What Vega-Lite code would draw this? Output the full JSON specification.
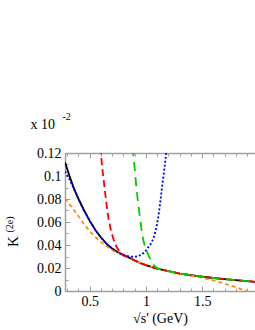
{
  "$schema": "https://vega.github.io/schema/vega-lite/v6.json",
  "autosize": "none",
  "width": 190,
  "height": 138,
  "padding": {"left": 65, "top": 153, "right": 0, "bottom": 39},
  "background": "white",
  "config": {"view": {"stroke": null}, "font": "Liberation Serif"},
  "datasets": {
    "black": [
      {"x": 0.28, "k": 0.112}, {"x": 0.30, "k": 0.106}, {"x": 0.32, "k": 0.100}, {"x": 0.34, "k": 0.0945},
      {"x": 0.36, "k": 0.089}, {"x": 0.38, "k": 0.0845}, {"x": 0.40, "k": 0.080}, {"x": 0.45, "k": 0.070},
      {"x": 0.50, "k": 0.061}, {"x": 0.55, "k": 0.053}, {"x": 0.60, "k": 0.0465}, {"x": 0.65, "k": 0.041},
      {"x": 0.70, "k": 0.037}, {"x": 0.75, "k": 0.0337}, {"x": 0.80, "k": 0.0312}, {"x": 0.85, "k": 0.029},
      {"x": 0.90, "k": 0.0265}, {"x": 0.95, "k": 0.0243}, {"x": 1.00, "k": 0.0225}, {"x": 1.05, "k": 0.0209},
      {"x": 1.10, "k": 0.0195}, {"x": 1.20, "k": 0.0172}, {"x": 1.30, "k": 0.0152}, {"x": 1.40, "k": 0.0137},
      {"x": 1.50, "k": 0.0124}, {"x": 1.60, "k": 0.0113}, {"x": 1.70, "k": 0.0103}, {"x": 1.80, "k": 0.0094},
      {"x": 1.90, "k": 0.0085}, {"x": 1.97, "k": 0.0079}
    ],
    "blue": [
      {"x": 0.28, "k": 0.104}, {"x": 0.30, "k": 0.1005}, {"x": 0.32, "k": 0.097}, {"x": 0.34, "k": 0.093},
      {"x": 0.36, "k": 0.0885}, {"x": 0.38, "k": 0.0845}, {"x": 0.40, "k": 0.080}, {"x": 0.45, "k": 0.070},
      {"x": 0.50, "k": 0.061}, {"x": 0.55, "k": 0.053}, {"x": 0.60, "k": 0.0465}, {"x": 0.65, "k": 0.041},
      {"x": 0.70, "k": 0.037}, {"x": 0.75, "k": 0.0337}, {"x": 0.80, "k": 0.031}, {"x": 0.84, "k": 0.0302},
      {"x": 0.88, "k": 0.0298}, {"x": 0.92, "k": 0.030}, {"x": 0.96, "k": 0.0315}, {"x": 0.99, "k": 0.034},
      {"x": 1.02, "k": 0.038}, {"x": 1.05, "k": 0.042}, {"x": 1.075, "k": 0.048}, {"x": 1.095, "k": 0.056},
      {"x": 1.11, "k": 0.0646}, {"x": 1.125, "k": 0.075}, {"x": 1.14, "k": 0.088}, {"x": 1.16, "k": 0.103},
      {"x": 1.18, "k": 0.12}, {"x": 1.19, "k": 0.13}
    ],
    "red": [
      {"x": 0.595, "k": 0.125}, {"x": 0.598, "k": 0.12}, {"x": 0.615, "k": 0.104}, {"x": 0.634, "k": 0.088},
      {"x": 0.65, "k": 0.075}, {"x": 0.665, "k": 0.064}, {"x": 0.69, "k": 0.052}, {"x": 0.715, "k": 0.044},
      {"x": 0.74, "k": 0.038}, {"x": 0.77, "k": 0.034}, {"x": 0.80, "k": 0.0314}, {"x": 0.85, "k": 0.029},
      {"x": 0.90, "k": 0.0265}, {"x": 0.95, "k": 0.0243}, {"x": 1.00, "k": 0.0225}, {"x": 1.05, "k": 0.0209},
      {"x": 1.10, "k": 0.0195}, {"x": 1.20, "k": 0.0172}, {"x": 1.30, "k": 0.0152}, {"x": 1.40, "k": 0.0137},
      {"x": 1.50, "k": 0.0124}, {"x": 1.60, "k": 0.0113}, {"x": 1.70, "k": 0.0103}, {"x": 1.80, "k": 0.0094},
      {"x": 1.90, "k": 0.0085}, {"x": 1.97, "k": 0.0079}
    ],
    "green": [
      {"x": 0.884, "k": 0.125}, {"x": 0.887, "k": 0.12}, {"x": 0.902, "k": 0.104}, {"x": 0.917, "k": 0.088},
      {"x": 0.932, "k": 0.075}, {"x": 0.946, "k": 0.0646}, {"x": 0.96, "k": 0.054}, {"x": 0.976, "k": 0.0443},
      {"x": 1.00, "k": 0.036}, {"x": 1.036, "k": 0.0284}, {"x": 1.07, "k": 0.0225}, {"x": 1.10, "k": 0.0198},
      {"x": 1.20, "k": 0.0172}, {"x": 1.30, "k": 0.0152}, {"x": 1.40, "k": 0.0137}, {"x": 1.50, "k": 0.0124},
      {"x": 1.60, "k": 0.0113}, {"x": 1.70, "k": 0.0103}, {"x": 1.80, "k": 0.0094}, {"x": 1.90, "k": 0.0085},
      {"x": 1.97, "k": 0.0079}
    ],
    "orange": [
      {"x": 0.28, "k": 0.0806}, {"x": 0.32, "k": 0.0755}, {"x": 0.36, "k": 0.0705}, {"x": 0.40, "k": 0.065},
      {"x": 0.45, "k": 0.058}, {"x": 0.50, "k": 0.052}, {"x": 0.55, "k": 0.047}, {"x": 0.60, "k": 0.0425},
      {"x": 0.65, "k": 0.039}, {"x": 0.70, "k": 0.0355}, {"x": 0.75, "k": 0.033}, {"x": 0.80, "k": 0.0308},
      {"x": 0.85, "k": 0.0288}, {"x": 0.90, "k": 0.0264}, {"x": 0.95, "k": 0.0243}, {"x": 1.00, "k": 0.0225},
      {"x": 1.05, "k": 0.0209}, {"x": 1.10, "k": 0.0195}, {"x": 1.20, "k": 0.0171}, {"x": 1.30, "k": 0.015},
      {"x": 1.40, "k": 0.0133}, {"x": 1.50, "k": 0.0115}, {"x": 1.60, "k": 0.0092}, {"x": 1.70, "k": 0.0064},
      {"x": 1.80, "k": 0.0033}, {"x": 1.88, "k": 0.0003}, {"x": 1.93, "k": -0.0015}
    ]
  },
  "resolve": {"axis": {"x": "independent", "y": "independent"}},
  "layer": [
    {
      "data": {"name": "black"},
      "mark": {"type": "line", "color": "black", "strokeWidth": 1.8, "clip": true},
      "encoding": {
        "x": {
          "field": "x", "type": "quantitative",
          "scale": {"domain": [0.28, 1.97], "nice": false, "zero": false},
          "axis": {
            "orient": "bottom", "title": "√s' (GeV)", "titleFont": "Liberation Serif", "titleFontSize": 14, "titleFontWeight": "normal", "titleColor": "black", "titlePadding": 1,
            "values": [0.3, 0.4, 0.5, 0.6, 0.7, 0.8, 0.9, 1, 1.1, 1.2, 1.3, 1.4, 1.5, 1.6, 1.7, 1.8, 1.9],
            "format": "~g",
            "labelExpr": "abs(datum.value*2 - round(datum.value*2)) < 0.001 ? datum.label : ''",
            "labelFont": "Liberation Serif", "labelFontSize": 14, "labelColor": "black", "labelPadding": 8,
            "tickSize": {"condition": {"test": "abs(datum.value*2 - round(datum.value*2)) < 0.001", "value": -5}, "value": -3},
            "tickColor": "#a0a0a0", "domainColor": "#a0a0a0", "domainWidth": 1.5, "grid": false, "labelOverlap": false
          }
        },
        "y": {
          "field": "k", "type": "quantitative",
          "scale": {"domain": [0, 0.12], "nice": false, "zero": false},
          "axis": {
            "title": "K", "titleFont": "Liberation Serif", "titleFontSize": 15, "titleFontWeight": "normal", "titleColor": "black",
            "titleX": -45, "titleY": 88,
            "values": [0, 0.01, 0.02, 0.03, 0.04, 0.05, 0.06, 0.07, 0.08, 0.09, 0.1, 0.11, 0.12],
            "format": "~g",
            "labelExpr": "abs(datum.value*50 - round(datum.value*50)) < 0.001 ? datum.label : ''",
            "labelFont": "Liberation Serif", "labelFontSize": 14, "labelColor": "black", "labelPadding": 9,
            "tickSize": {"condition": {"test": "abs(datum.value*50 - round(datum.value*50)) < 0.001", "value": -5}, "value": -3},
            "tickColor": "#a0a0a0", "domainColor": "#a0a0a0", "domainWidth": 1.5, "grid": false, "labelOverlap": false
          }
        }
      }
    },
    {
      "data": {"name": "orange"},
      "mark": {"type": "line", "color": "#ff8c1a", "strokeWidth": 1.8, "strokeDash": [4, 3], "clip": true},
      "encoding": {
        "x": {"field": "x", "type": "quantitative", "axis": {
          "orient": "top", "labels": false,
          "title": "x 10", "titleFont": "Liberation Serif", "titleFontSize": 14, "titleFontWeight": "normal", "titleColor": "black",
          "titleX": -35, "titleY": -25, "titleAlign": "left", "titleBaseline": "alphabetic", "titleAngle": 0,
          "values": [0.3, 0.4, 0.5, 0.6, 0.7, 0.8, 0.9, 1, 1.1, 1.2, 1.3, 1.4, 1.5, 1.6, 1.7, 1.8, 1.9],
          "tickSize": {"condition": {"test": "abs(datum.value*2 - round(datum.value*2)) < 0.001", "value": -5}, "value": -3},
          "tickColor": "#a0a0a0", "domainColor": "#a0a0a0", "domainWidth": 1.5, "grid": false
        }},
        "y": {"field": "k", "type": "quantitative", "axis": {
          "orient": "left", "labels": false, "ticks": false, "domain": false, "grid": false,
          "title": "(2e)", "titleFont": "Liberation Serif", "titleFontSize": 10, "titleFontWeight": "normal", "titleColor": "black",
          "titleX": -51, "titleY": 71
        }}
      }
    },
    {
      "data": {"name": "red"},
      "mark": {"type": "line", "color": "#ff0000", "strokeWidth": 1.8, "strokeDash": [7, 4], "clip": true},
      "encoding": {
        "x": {"field": "x", "type": "quantitative", "axis": {
          "orient": "top", "labels": false, "ticks": false, "domain": false, "grid": false,
          "title": "-2", "titleFont": "Liberation Serif", "titleFontSize": 10, "titleFontWeight": "normal", "titleColor": "black",
          "titleX": -3, "titleY": -34, "titleAlign": "left", "titleBaseline": "alphabetic", "titleAngle": 0
        }},
        "y": {"field": "k", "type": "quantitative", "axis": null}
      }
    },
    {
      "data": {"name": "green"},
      "mark": {"type": "line", "color": "#00cc00", "strokeWidth": 1.8, "strokeDash": [9, 6], "clip": true},
      "encoding": {
        "x": {"field": "x", "type": "quantitative", "axis": null},
        "y": {"field": "k", "type": "quantitative", "axis": null}
      }
    },
    {
      "data": {"name": "blue"},
      "mark": {"type": "line", "color": "#0000ff", "strokeWidth": 1.8, "strokeDash": [2, 2], "clip": true},
      "encoding": {
        "x": {"field": "x", "type": "quantitative", "axis": null},
        "y": {"field": "k", "type": "quantitative", "axis": null}
      }
    }
  ]
}
